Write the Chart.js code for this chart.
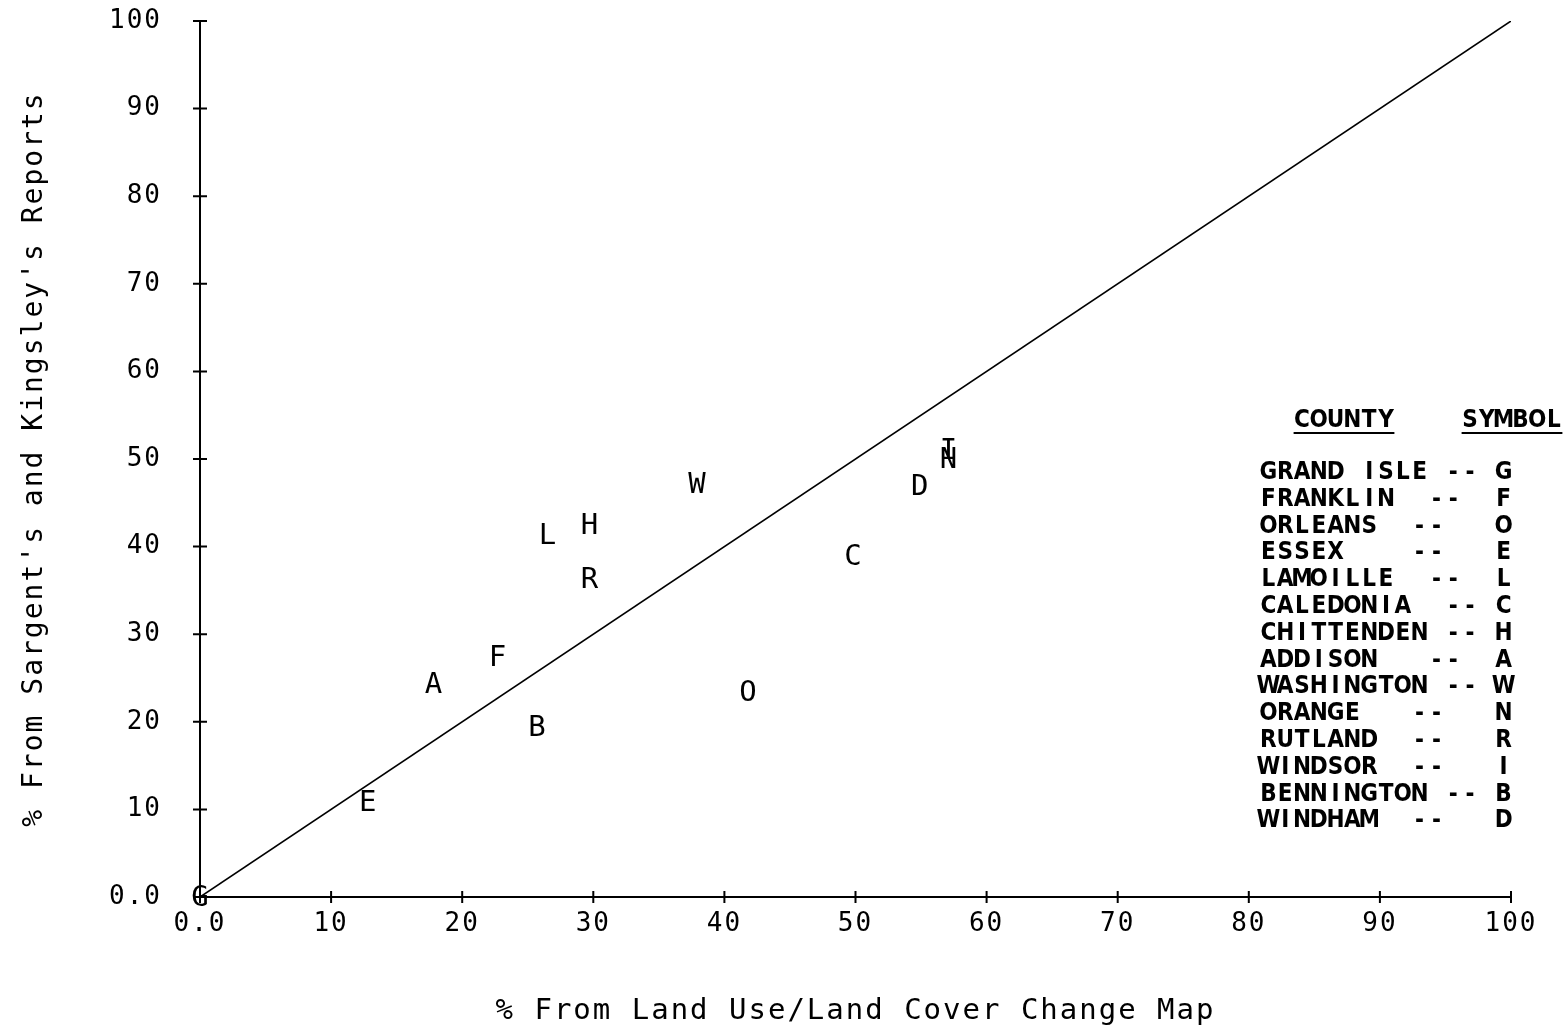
<!DOCTYPE html>
<html>
<head>
<meta charset="utf-8">
<script src="https://cdn.jsdelivr.net/npm/chart.js@4.4.1/dist/chart.umd.min.js"></script>
<style>
  body { margin: 0; background: #fff; }
  #wrap { width: 1564px; height: 1030px; }
</style>
</head>
<body>
<div id="wrap"><canvas id="countyChart"></canvas></div>
<script>
// County percentages
const counties = ['GRAND ISLE', 'FRANKLIN', 'ORLEANS', 'ESSEX', 'LAMOILLE', 'CALEDONIA', 'CHITTENDEN',
    'ADDISON', 'WASHINGTON', 'ORANGE', 'RUTLAND', 'WINDSOR', 'BENNINGTON', 'WINDHAM'];
const symbols = ['G', 'F', 'O', 'E', 'L', 'C', 'H', 'A', 'W', 'N', 'R', 'I', 'B', 'D'];
const mapPct = [0, 22.7, 41.8, 12.8, 26.5, 49.8, 29.7, 17.8, 37.9, 57.1, 29.7, 57.1, 25.7, 54.9];
const reportPct = [0, 27.4, 23.3, 10.8, 41.3, 38.9, 42.4, 24.3, 47.1, 50.0, 36.3, 51.0, 19.4, 46.9];

// 1:1 reference line
const lineX = [0, 100];
const lineY = [0, 100];

const xTicks = [0, 10, 20, 30, 40, 50, 60, 70, 80, 90, 100];
const yTicks = [0, 10, 20, 30, 40, 50, 60, 70, 80, 90, 100];

const monoFont = '"DejaVu Sans Mono", monospace';
const legendFont = 'bold 24px "Liberation Sans Narrow", "DejaVu Sans Condensed", sans-serif';

function fmtTick(v) {
    return v === 0 ? '0.0' : String(v);
}

const whiteBg = {
    id: 'whiteBg',
    beforeDraw(chart) {
        const ctx = chart.ctx;
        ctx.save();
        ctx.fillStyle = '#fff';
        ctx.fillRect(0, 0, chart.width, chart.height);
        ctx.restore();
        ctx.letterSpacing = '2px';
    }
};

// small "+" style tick marks across each axis
const crossTicks = {
    id: 'crossTicks',
    afterDraw(chart) {
        const ctx = chart.ctx;
        const xs = chart.scales.x, ys = chart.scales.y;
        ctx.save();
        ctx.strokeStyle = '#000';
        ctx.lineWidth = 2;
        ctx.beginPath();
        xTicks.forEach(v => {
            const px = xs.getPixelForValue(v);
            ctx.moveTo(px, ys.bottom - 6);
            ctx.lineTo(px, ys.bottom + 6);
        });
        yTicks.forEach(v => {
            const py = ys.getPixelForValue(v);
            ctx.moveTo(xs.left - 7, py);
            ctx.lineTo(xs.left + 7, py);
        });
        ctx.stroke();
        ctx.restore();
    }
};

// letters at each county point
const letterLabels = {
    id: 'letterLabels',
    afterDatasetsDraw(chart) {
        const meta = chart.getDatasetMeta(0);
        const ctx = chart.ctx;
        ctx.save();
        ctx.letterSpacing = '0px';
        ctx.font = '29px ' + monoFont;
        ctx.fillStyle = '#000';
        ctx.textAlign = 'center';
        ctx.textBaseline = 'middle';
        meta.data.forEach((pt, i) => {
            ctx.fillText(symbols[i], pt.x, pt.y + 1);
        });
        ctx.restore();
    }
};

// county/symbol table drawn on a character grid
const countyTable = {
    id: 'countyTable',
    afterDraw(chart) {
        const ctx = chart.ctx;
        const x0 = 1260, col = 16.8, row = 26.8, base = 479;
        ctx.save();
        ctx.letterSpacing = '0px';
        ctx.font = legendFont;
        ctx.fillStyle = '#000';
        ctx.strokeStyle = '#000';
        ctx.textAlign = 'center';
        ctx.textBaseline = 'alphabetic';
        const putText = (txt, c, y) => {
            for (let k = 0; k < txt.length; k++) {
                if (txt[k] !== ' ') ctx.fillText(txt[k], x0 + (c + k) * col + col / 2, y);
            }
        };
        putText('COUNTY', 2, 427);
        putText('SYMBOL', 12, 427);
        ctx.lineWidth = 2;
        ctx.beginPath();
        ctx.moveTo(x0 + 2 * col, 433); ctx.lineTo(x0 + 8 * col, 433);
        ctx.moveTo(x0 + 12 * col, 433); ctx.lineTo(x0 + 18 * col, 433);
        ctx.stroke();
        counties.forEach((name, i) => {
            const y = base + i * row;
            putText(name, 0, y);
            let dc = Math.max(name.length + 1, 9);
            if (name === 'FRANKLIN' || name === 'LAMOILLE' || name === 'ADDISON') dc = 10;
            if (name === 'CALEDONIA') dc = 11;
            putText('--', dc, y);
            putText(symbols[i], 14, y);
        });
        ctx.restore();
    }
};

const ctx = document.getElementById('countyChart').getContext('2d');

new Chart(ctx, {
    type: 'scatter',
    data: {
        datasets: [{
            label: 'Counties',
            data: mapPct.map((x, i) => ({ x: x, y: reportPct[i] })),
            pointRadius: 0,
            pointHoverRadius: 0
        }, {
            type: 'line',
            label: '1:1',
            data: lineX.map((x, i) => ({ x: x, y: lineY[i] })),
            borderColor: '#000',
            borderWidth: 1.6,
            pointRadius: 0,
            fill: false
        }]
    },
    options: {
        responsive: true,
        maintainAspectRatio: false,
        animation: false,
        layout: { padding: { top: 21, right: 53, left: 0, bottom: 0 } },
        scales: {
            x: {
                type: 'linear',
                min: 0,
                max: 100,
                afterBuildTicks(scale) { scale.ticks = xTicks.map(v => ({ value: v })); },
                afterFit(scale) {
                    scale.height = 133;
                    scale.paddingLeft = 0; scale.paddingRight = 0;
                    scale.paddingTop = 0; scale.paddingBottom = 0;
                },
                grid: { drawOnChartArea: false, drawTicks: false },
                border: { color: '#000', width: 2 },
                ticks: {
                    padding: 12,
                    color: '#000',
                    maxRotation: 0,
                    autoSkip: false,
                    font: { family: monoFont, size: 26 },
                    callback: fmtTick
                },
                title: {
                    display: true,
                    text: '% From Land Use/Land Cover Change Map',
                    color: '#000',
                    font: { family: monoFont, size: 29 },
                    padding: { top: 0, bottom: 1 }
                }
            },
            y: {
                type: 'linear',
                min: 0,
                max: 100,
                afterBuildTicks(scale) { scale.ticks = yTicks.map(v => ({ value: v })); },
                afterFit(scale) {
                    scale.width = 200;
                    scale.paddingLeft = 0; scale.paddingRight = 0;
                    scale.paddingTop = 0; scale.paddingBottom = 0;
                },
                grid: { drawOnChartArea: false, drawTicks: false },
                border: { color: '#000', width: 2 },
                ticks: {
                    padding: 38,
                    color: '#000',
                    autoSkip: false,
                    font: { family: monoFont, size: 26 },
                    callback: fmtTick
                },
                title: {
                    display: true,
                    text: "% From Sargent's and Kingsley's Reports",
                    color: '#000',
                    font: { family: monoFont, size: 28 },
                    padding: { top: 18, bottom: 0 }
                }
            }
        },
        plugins: {
            legend: { display: false },
            tooltip: { enabled: false }
        }
    },
    plugins: [whiteBg, letterLabels, crossTicks, countyTable]
});
</script>
</body>
</html>
